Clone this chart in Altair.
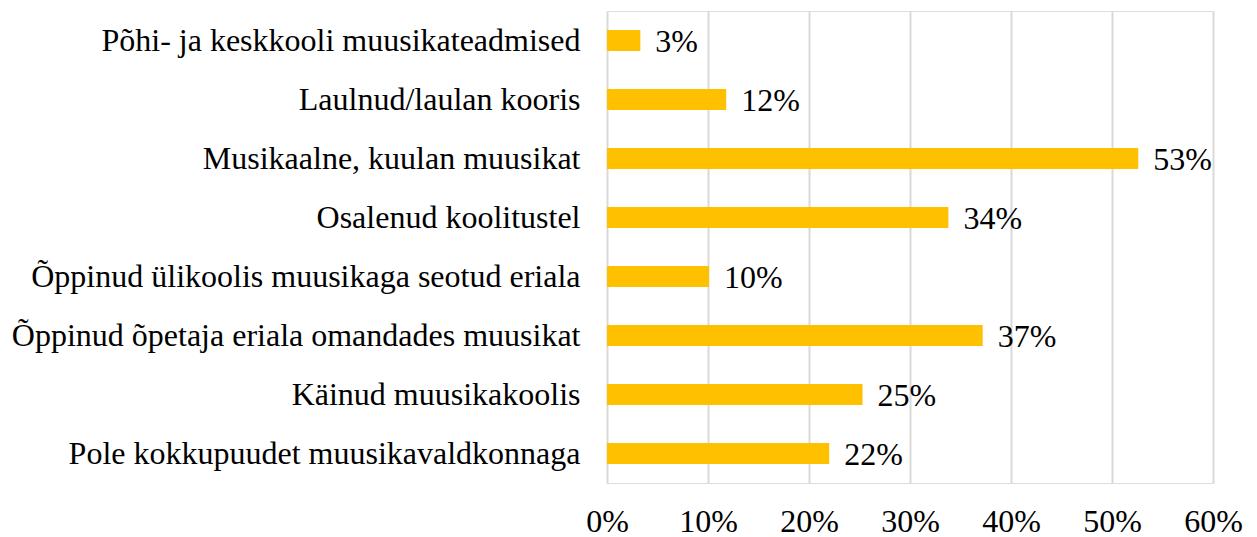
import altair as alt
import pandas as pd

categories = [
    "Põhi- ja keskkooli muusikateadmised",
    "Laulnud/laulan kooris",
    "Musikaalne, kuulan muusikat",
    "Osalenud koolitustel",
    "Õppinud ülikoolis muusikaga seotud eriala",
    "Õppinud õpetaja eriala omandades muusikat",
    "Käinud muusikakoolis",
    "Pole kokkupuudet muusikavaldkonnaga",
]
values = [0.033, 0.118, 0.526, 0.338, 0.101, 0.372, 0.253, 0.220]
ticks = [0, 0.1, 0.2, 0.3, 0.4, 0.5, 0.6]

df = pd.DataFrame({"cat": categories, "val": values})

FONT = "Liberation Serif"

y = alt.Y("cat:N", sort=categories, title=None,
          scale=alt.Scale(paddingInner=0.64, paddingOuter=0.32),
          axis=alt.Axis(ticks=False, domain=False, labelFont=FONT, labelFontSize=32,
                        labelColor="black", labelPadding=27, labelLimit=1000))
x = alt.X("val:Q", title=None,
          scale=alt.Scale(domain=[0, 0.6], nice=False),
          axis=alt.Axis(values=ticks, format=".0%", ticks=False, domain=False,
                        labelFont=FONT, labelFontSize=32, labelColor="black",
                        labelBaseline="alphabetic", labelPadding=48,
                        labelFlush=False, labelOverlap=False,
                        gridColor="#d9d9d9", gridWidth=2))

bars = alt.Chart(df).mark_bar(color="#FFC000").encode(x=x, y=y)
labels = alt.Chart(df).mark_text(align="left", baseline="middle", dx=15, dy=1,
                                 font=FONT, fontSize=32, color="black").encode(
    x="val:Q", y=alt.Y("cat:N", sort=categories),
    text=alt.Text("val:Q", format=".0%"))

chart = (bars + labels).properties(
    width=606, height=472,
    autosize=alt.AutoSizeParams(type="none"),
    padding={"left": 599, "top": 3, "right": 33, "bottom": 54},
).configure_view(stroke=None).configure(background="white")

chart.save("out.html", embed_options={"renderer": "svg", "actions": False})
